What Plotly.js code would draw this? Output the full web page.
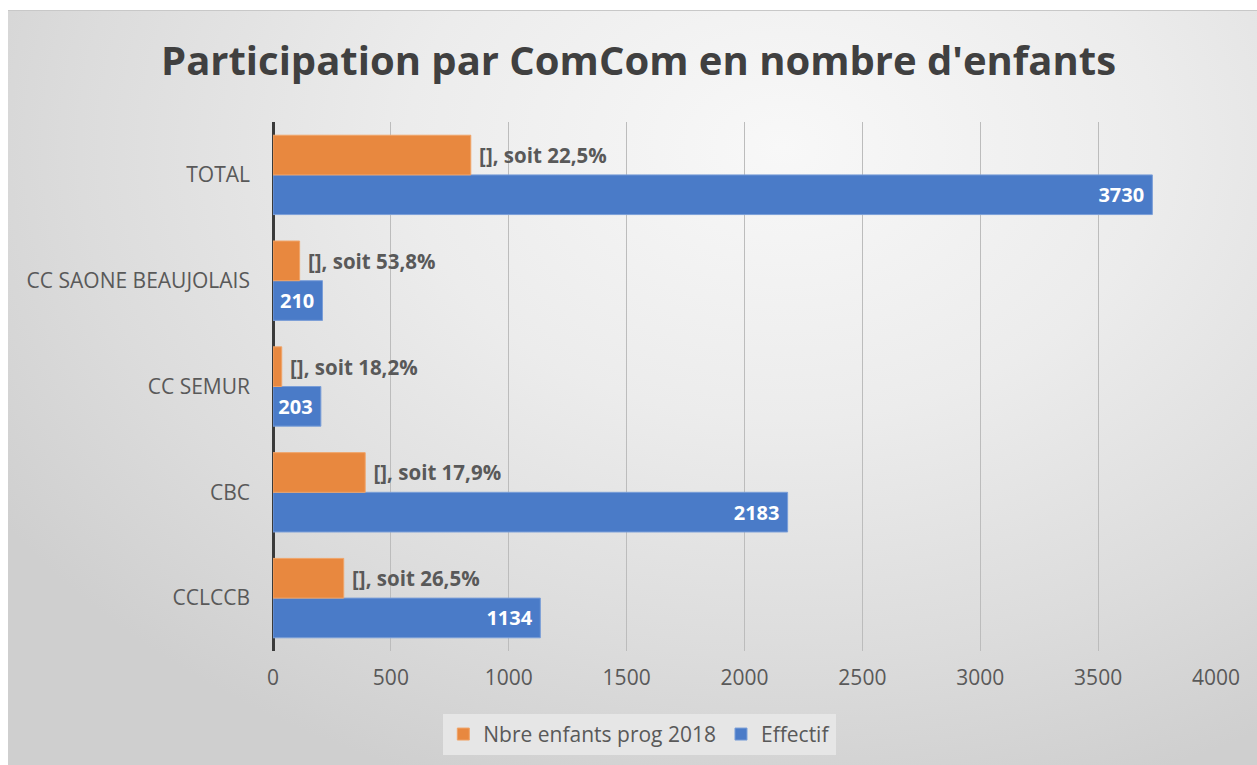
<!DOCTYPE html>
<html><head><meta charset="utf-8">
<script src="https://cdn.plot.ly/plotly-3.0.1.min.js"></script>
<style>
html,body{margin:0;padding:0;background:#fff;}
#frame{position:absolute;left:8px;top:10px;width:1249px;height:755px;border-top:1px solid #c8c8c8;
background:radial-gradient(ellipse 75% 90% at 62% 18%, #f8f8f8 0%, #ececec 40%, #dcdcdc 75%, #cfcfcf 100%);}
#chart{position:absolute;left:0;top:0;width:1257px;height:765px;}
</style></head>
<body>
<div id="frame"></div>
<div id="chart"></div>
<script>
const categories = ['CCLCCB','CBC','CC SEMUR','CC SAONE BEAUJOLAIS','TOTAL'];
const effectif = [1134, 2183, 203, 210, 3730];
const nbreEnfants = [300, 391, 37, 113, 839];
const pctLabels = ['[], soit 26,5%','[], soit 17,9%','[], soit 18,2%','[], soit 53,8%','[], soit 22,5%'];

const font = '"Open Sans", "Liberation Sans", sans-serif';

const traces = [
  {type:'bar', orientation:'h', name:'Effectif', y:categories, x:effectif,
   marker:{color:'#4a7bc8', line:{color:'#7a9ed8', width:1}},
   text:effectif.map(v => v + '\u00a0'), textposition:'inside', insidetextanchor:'end', constraintext:'none',
   textfont:{family:font, size:20, color:'#ffffff', weight:'bold'}, cliponaxis:false, hoverinfo:'skip'},
  {type:'bar', orientation:'h', name:'Nbre enfants prog 2018', y:categories, x:nbreEnfants,
   marker:{color:'#e8883f', line:{color:'#f0a468', width:1}},
   text:pctLabels.map(t => '\u00a0' + t), textposition:'outside', constraintext:'none',
   textfont:{family:font, size:20.5, color:'#595959', weight:'bold'}, cliponaxis:false, hoverinfo:'skip'}
];

const layout = {
  width:1257, height:765,
  paper_bgcolor:'rgba(0,0,0,0)', plot_bgcolor:'rgba(0,0,0,0)',
  margin:{l:273, r:41, t:122, b:114},
  barmode:'group', bargap:0.25, bargroupgap:0,
  title:{text:'<b>Participation par ComCom en nombre d\'enfants</b>', x:0.508, xanchor:'center', y:0.92, yanchor:'middle',
    font:{family:font, size:40, color:'#404040'}},
  xaxis:{range:[0,4000], dtick:500, tick0:0, showgrid:true, gridcolor:'#bcbcbc', gridwidth:1,
    zeroline:true, zerolinecolor:'#3a3a3a', zerolinewidth:3, showline:false, ticks:'',
    tickfont:{family:font, size:21, color:'#595959'}, ticklabelstandoff:12, fixedrange:true},
  yaxis:{type:'category', categoryorder:'array', categoryarray:categories, showgrid:false, zeroline:false,
    showline:false, ticks:'', ticklabelstandoff:22,
    tickfont:{family:font, size:21, color:'#595959'}, fixedrange:true},
  legend:{orientation:'h', xref:'container', yref:'container', x:0.509, xanchor:'center', y:0.04, yanchor:'middle', traceorder:'reversed',
    bgcolor:'#e6e6e6', borderwidth:0, font:{family:font, size:21, color:'#595959'}, itemwidth:30},
  showlegend:true
};
Plotly.newPlot('chart', traces, layout, {displayModeBar:false, staticPlot:true});
</script>
</body></html>
